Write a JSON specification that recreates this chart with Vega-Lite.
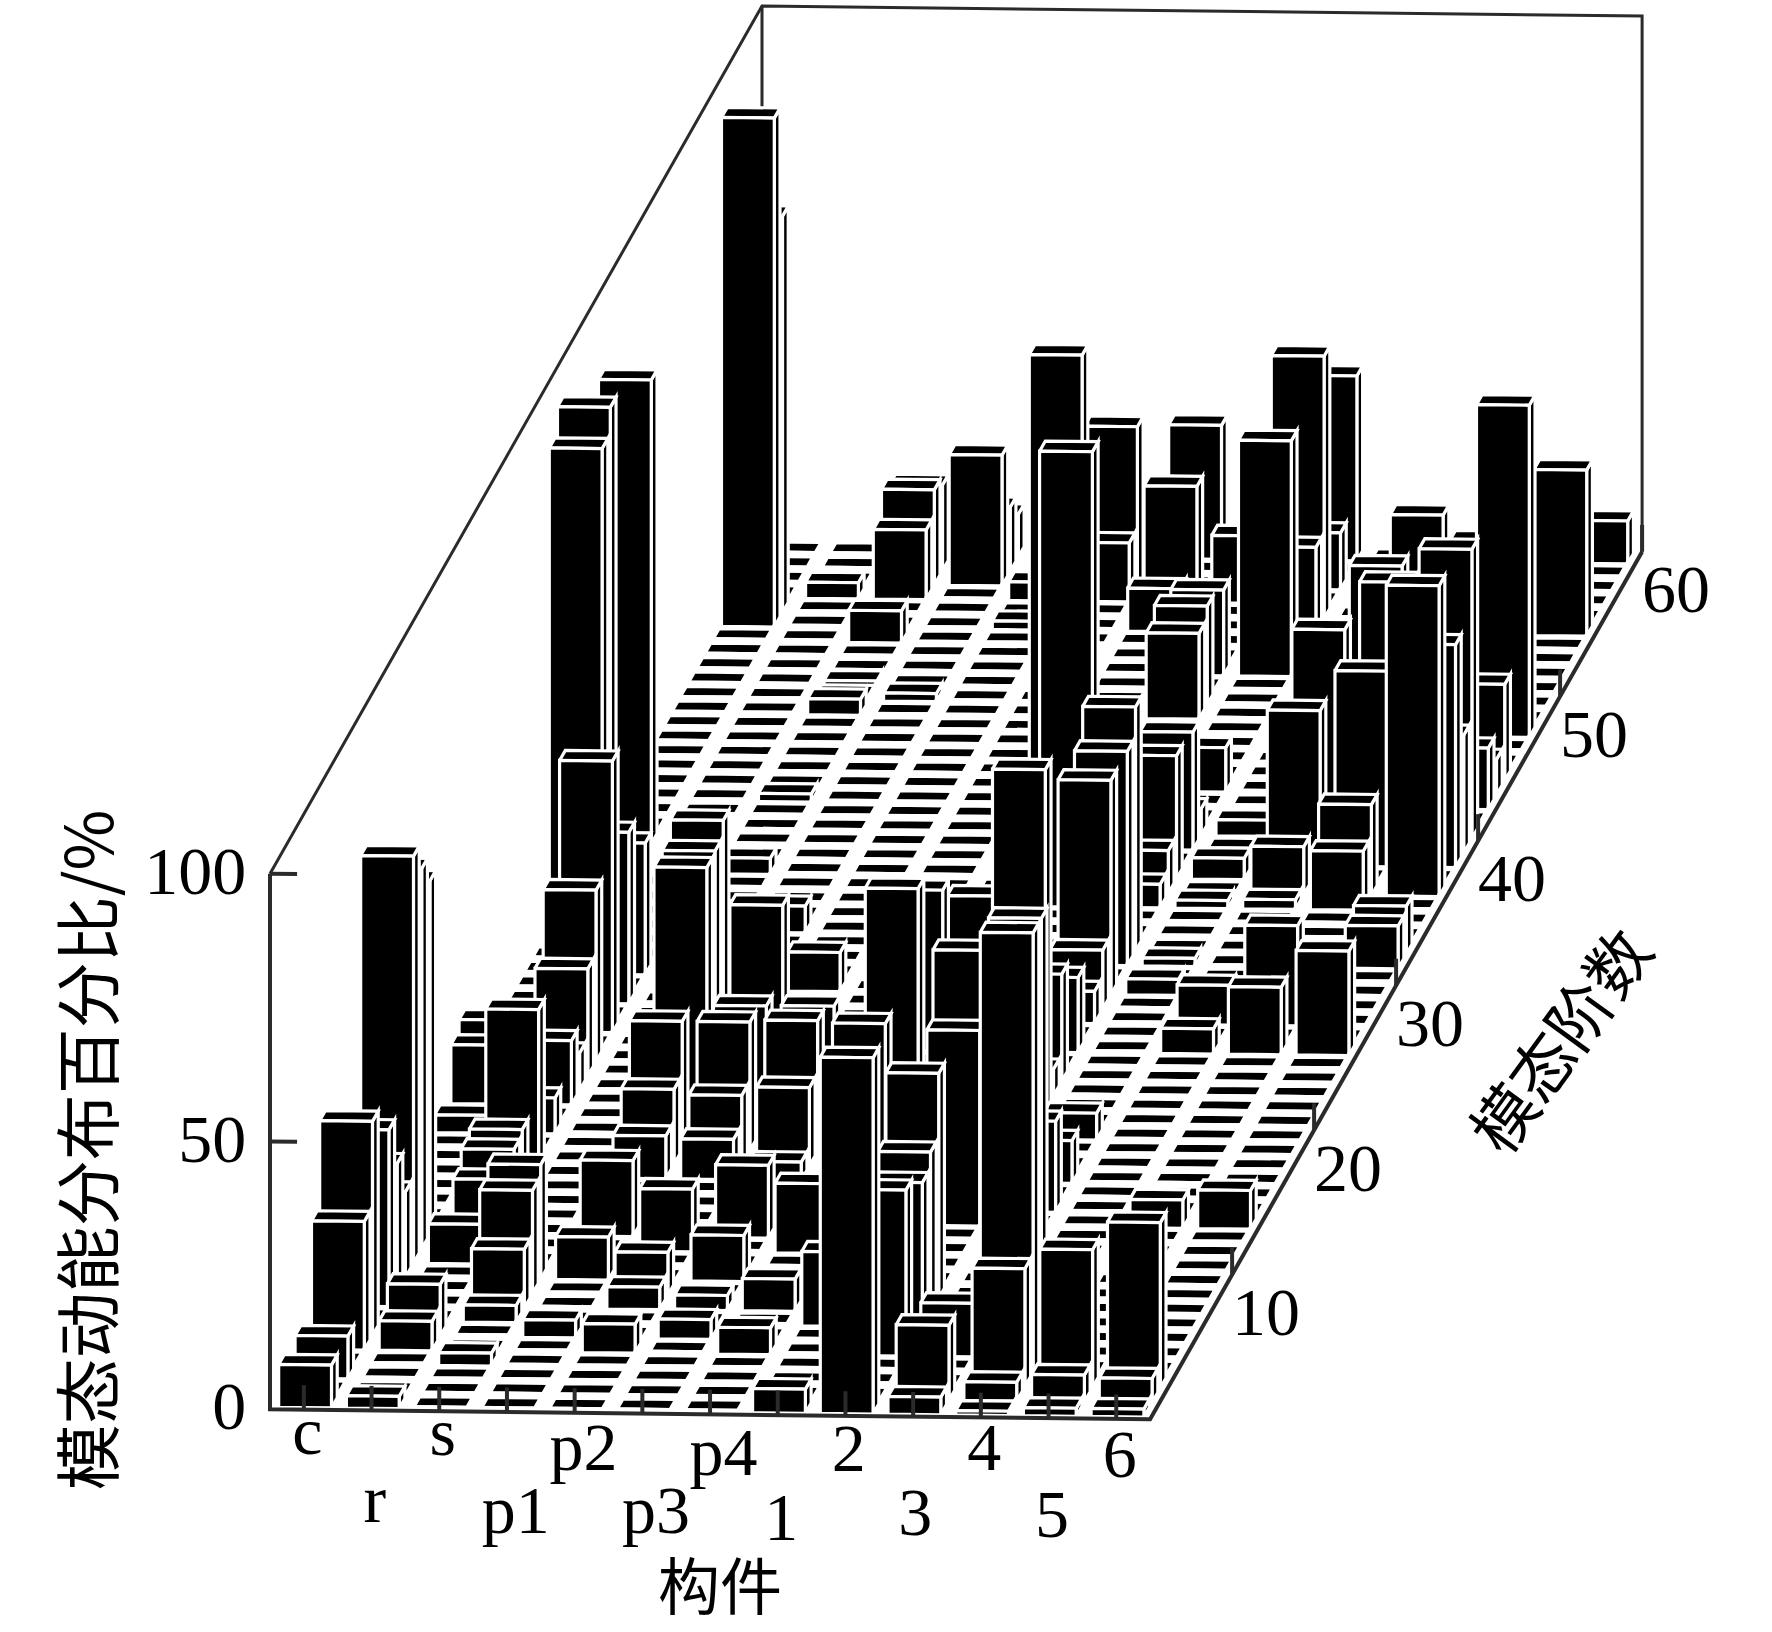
{"$schema":"https://vega.github.io/schema/vega-lite/v6.json","width":1772,"height":1632,"padding":0,"autosize":{"type":"fit","contains":"padding"},"background":"white","config":{"view":{"stroke":null}},
"layer":[
{"data":{"values":[{"path":"a","seq":1,"u":0,"w":0,"z":100},{"path":"a","seq":2,"u":0,"w":60,"z":100},{"path":"a","seq":3,"u":13,"w":60,"z":100},{"path":"a","seq":4,"u":13,"w":60,"z":0},{"path":"b","seq":1,"u":0,"w":60,"z":100},{"path":"b","seq":2,"u":0,"w":60,"z":0}]},
"transform":[{"calculate":"270+67.7*datum.u+8.2*datum.w","as":"px"},{"calculate":"1408+0.77*datum.u-14.55*datum.w-5.39*datum.z","as":"py"}],
"mark":{"type":"line","stroke":"#2b2b2b","strokeWidth":3,"clip":false},
"encoding":{"x":{"field":"px","type":"quantitative","scale":{"domain":[0,1772],"nice":false,"zero":false},"axis":null},"y":{"field":"py","type":"quantitative","scale":{"domain":[1632,0],"nice":false,"zero":false},"axis":null},"detail":{"field":"path"},"order":{"field":"seq"}}},
{"data":{"values":[
{"part":"c","mode":60,"value":0.4},{"part":"r","mode":60,"value":0.4},{"part":"s","mode":60,"value":0.4},{"part":"p1","mode":60,"value":8},{"part":"p2","mode":60,"value":0.4},{"part":"p3","mode":60,"value":0.4},{"part":"p4","mode":60,"value":25},{"part":"1","mode":60,"value":0.4},{"part":"2","mode":60,"value":34.5},{"part":"3","mode":60,"value":0.4},{"part":"4","mode":60,"value":0.4},{"part":"5","mode":60,"value":0.4},{"part":"6","mode":60,"value":8},
{"part":"c","mode":59,"value":0.4},{"part":"r","mode":59,"value":0.4},{"part":"s","mode":59,"value":16},{"part":"p1","mode":59,"value":12},{"part":"p2","mode":59,"value":0.4},{"part":"p3","mode":59,"value":0.4},{"part":"p4","mode":59,"value":0.4},{"part":"1","mode":59,"value":0.4},{"part":"2","mode":59,"value":0.4},{"part":"3","mode":59,"value":0.4},{"part":"4","mode":59,"value":0.4},{"part":"5","mode":59,"value":0.4},{"part":"6","mode":59,"value":0.4},
{"part":"c","mode":58,"value":0.4},{"part":"r","mode":58,"value":0.4},{"part":"s","mode":58,"value":17.8},{"part":"p1","mode":58,"value":24.4},{"part":"p2","mode":58,"value":0.4},{"part":"p3","mode":58,"value":30},{"part":"p4","mode":58,"value":0.4},{"part":"1","mode":58,"value":0.4},{"part":"2","mode":58,"value":10.6},{"part":"3","mode":58,"value":0.4},{"part":"4","mode":58,"value":0.4},{"part":"5","mode":58,"value":0.4},{"part":"6","mode":58,"value":0.4},
{"part":"c","mode":57,"value":0.4},{"part":"r","mode":57,"value":3},{"part":"s","mode":57,"value":13},{"part":"p1","mode":57,"value":0.4},{"part":"p2","mode":57,"value":3.5},{"part":"p3","mode":57,"value":11},{"part":"p4","mode":57,"value":21.7},{"part":"1","mode":57,"value":12.6},{"part":"2","mode":57,"value":0.4},{"part":"3","mode":57,"value":0.4},{"part":"4","mode":57,"value":0.4},{"part":"5","mode":57,"value":0.4},{"part":"6","mode":57,"value":0.4},
{"part":"c","mode":56,"value":74},{"part":"r","mode":56,"value":0.4},{"part":"s","mode":56,"value":0.4},{"part":"p1","mode":56,"value":0.4},{"part":"p2","mode":56,"value":0.4},{"part":"p3","mode":56,"value":0.4},{"part":"p4","mode":56,"value":0.4},{"part":"1","mode":56,"value":0.4},{"part":"2","mode":56,"value":49},{"part":"3","mode":56,"value":0.4},{"part":"4","mode":56,"value":0.4},{"part":"5","mode":56,"value":0.4},{"part":"6","mode":56,"value":0.4},
{"part":"c","mode":55,"value":95},{"part":"r","mode":55,"value":0.4},{"part":"s","mode":55,"value":0.4},{"part":"p1","mode":55,"value":0.4},{"part":"p2","mode":55,"value":1.6},{"part":"p3","mode":55,"value":0.4},{"part":"p4","mode":55,"value":8},{"part":"1","mode":55,"value":0.4},{"part":"2","mode":55,"value":16},{"part":"3","mode":55,"value":0.4},{"part":"4","mode":55,"value":0.4},{"part":"5","mode":55,"value":0.4},{"part":"6","mode":55,"value":31},
{"part":"c","mode":54,"value":0.4},{"part":"r","mode":54,"value":0.4},{"part":"s","mode":54,"value":6},{"part":"p1","mode":54,"value":0.4},{"part":"p2","mode":54,"value":0.4},{"part":"p3","mode":54,"value":0.4},{"part":"p4","mode":54,"value":0.4},{"part":"1","mode":54,"value":0.4},{"part":"2","mode":54,"value":0.4},{"part":"3","mode":54,"value":0.4},{"part":"4","mode":54,"value":25},{"part":"5","mode":54,"value":0.4},{"part":"6","mode":54,"value":0.4},
{"part":"c","mode":53,"value":0.4},{"part":"r","mode":53,"value":0.4},{"part":"s","mode":53,"value":0.4},{"part":"p1","mode":53,"value":0.4},{"part":"p2","mode":53,"value":0.4},{"part":"p3","mode":53,"value":0.4},{"part":"p4","mode":53,"value":0.4},{"part":"1","mode":53,"value":0.4},{"part":"2","mode":53,"value":0.4},{"part":"3","mode":53,"value":0.4},{"part":"4","mode":53,"value":0.4},{"part":"5","mode":53,"value":23},{"part":"6","mode":53,"value":0.4},
{"part":"c","mode":52,"value":0.4},{"part":"r","mode":52,"value":0.4},{"part":"s","mode":52,"value":0.4},{"part":"p1","mode":52,"value":0.4},{"part":"p2","mode":52,"value":0.4},{"part":"p3","mode":52,"value":0.4},{"part":"p4","mode":52,"value":0.4},{"part":"1","mode":52,"value":16},{"part":"2","mode":52,"value":44},{"part":"3","mode":52,"value":0.4},{"part":"4","mode":52,"value":0.4},{"part":"5","mode":52,"value":0.4},{"part":"6","mode":52,"value":0.4},
{"part":"c","mode":51,"value":0.4},{"part":"r","mode":51,"value":0.4},{"part":"s","mode":51,"value":1},{"part":"p1","mode":51,"value":0.4},{"part":"p2","mode":51,"value":0.4},{"part":"p3","mode":51,"value":0.4},{"part":"p4","mode":51,"value":0.4},{"part":"1","mode":51,"value":0.4},{"part":"2","mode":51,"value":0.4},{"part":"3","mode":51,"value":0.4},{"part":"4","mode":51,"value":0.4},{"part":"5","mode":51,"value":0.4},{"part":"6","mode":51,"value":0.4},
{"part":"c","mode":50,"value":0.4},{"part":"r","mode":50,"value":0.4},{"part":"s","mode":50,"value":1},{"part":"p1","mode":50,"value":1.5},{"part":"p2","mode":50,"value":0.4},{"part":"p3","mode":50,"value":0.4},{"part":"p4","mode":50,"value":0.4},{"part":"1","mode":50,"value":18.4},{"part":"2","mode":50,"value":0.4},{"part":"3","mode":50,"value":0.4},{"part":"4","mode":50,"value":0.4},{"part":"5","mode":50,"value":0.4},{"part":"6","mode":50,"value":0.4},
{"part":"c","mode":49,"value":0.4},{"part":"r","mode":49,"value":0.4},{"part":"s","mode":49,"value":3},{"part":"p1","mode":49,"value":0.4},{"part":"p2","mode":49,"value":0.4},{"part":"p3","mode":49,"value":0.4},{"part":"p4","mode":49,"value":0.4},{"part":"1","mode":49,"value":16},{"part":"2","mode":49,"value":0.4},{"part":"3","mode":49,"value":0.4},{"part":"4","mode":49,"value":29},{"part":"5","mode":49,"value":0.4},{"part":"6","mode":49,"value":0.4},
{"part":"c","mode":48,"value":0.4},{"part":"r","mode":48,"value":0.4},{"part":"s","mode":48,"value":0.4},{"part":"p1","mode":48,"value":0.4},{"part":"p2","mode":48,"value":0.4},{"part":"p3","mode":48,"value":0.4},{"part":"p4","mode":48,"value":0.4},{"part":"1","mode":48,"value":0.4},{"part":"2","mode":48,"value":0.4},{"part":"3","mode":48,"value":0.4},{"part":"4","mode":48,"value":0.4},{"part":"5","mode":48,"value":0.4},{"part":"6","mode":48,"value":62},
{"part":"c","mode":47,"value":0.4},{"part":"r","mode":47,"value":0.4},{"part":"s","mode":47,"value":0.4},{"part":"p1","mode":47,"value":0.4},{"part":"p2","mode":47,"value":0.4},{"part":"p3","mode":47,"value":0.4},{"part":"p4","mode":47,"value":0.4},{"part":"1","mode":47,"value":0.4},{"part":"2","mode":47,"value":0.4},{"part":"3","mode":47,"value":0.4},{"part":"4","mode":47,"value":0.4},{"part":"5","mode":47,"value":0.4},{"part":"6","mode":47,"value":0.4},
{"part":"c","mode":46,"value":0.4},{"part":"r","mode":46,"value":0.4},{"part":"s","mode":46,"value":0.4},{"part":"p1","mode":46,"value":0.4},{"part":"p2","mode":46,"value":0.4},{"part":"p3","mode":46,"value":0.4},{"part":"p4","mode":46,"value":0.4},{"part":"1","mode":46,"value":0.4},{"part":"2","mode":46,"value":0.4},{"part":"3","mode":46,"value":0.4},{"part":"4","mode":46,"value":0.4},{"part":"5","mode":46,"value":0.4},{"part":"6","mode":46,"value":0.4},
{"part":"c","mode":45,"value":0.4},{"part":"r","mode":45,"value":0.4},{"part":"s","mode":45,"value":0.4},{"part":"p1","mode":45,"value":0.4},{"part":"p2","mode":45,"value":0.4},{"part":"p3","mode":45,"value":0.4},{"part":"p4","mode":45,"value":0.4},{"part":"1","mode":45,"value":0.4},{"part":"2","mode":45,"value":0.4},{"part":"3","mode":45,"value":0.4},{"part":"4","mode":45,"value":0.4},{"part":"5","mode":45,"value":0.4},{"part":"6","mode":45,"value":18},
{"part":"c","mode":44,"value":0.4},{"part":"r","mode":44,"value":0.4},{"part":"s","mode":44,"value":0.4},{"part":"p1","mode":44,"value":0.4},{"part":"p2","mode":44,"value":0.4},{"part":"p3","mode":44,"value":0.4},{"part":"p4","mode":44,"value":0.4},{"part":"1","mode":44,"value":0.4},{"part":"2","mode":44,"value":8.3},{"part":"3","mode":44,"value":0.4},{"part":"4","mode":44,"value":0.4},{"part":"5","mode":44,"value":0.4},{"part":"6","mode":44,"value":6.7},
{"part":"c","mode":43,"value":0.4},{"part":"r","mode":43,"value":0.4},{"part":"s","mode":43,"value":1.5},{"part":"p1","mode":43,"value":0.4},{"part":"p2","mode":43,"value":0.4},{"part":"p3","mode":43,"value":0.4},{"part":"p4","mode":43,"value":84},{"part":"1","mode":43,"value":0.4},{"part":"2","mode":43,"value":0.4},{"part":"3","mode":43,"value":0.4},{"part":"4","mode":43,"value":0.4},{"part":"5","mode":43,"value":0.4},{"part":"6","mode":43,"value":11.5},
{"part":"c","mode":42,"value":0.4},{"part":"r","mode":42,"value":0.4},{"part":"s","mode":42,"value":0.4},{"part":"p1","mode":42,"value":0.4},{"part":"p2","mode":42,"value":0.4},{"part":"p3","mode":42,"value":0.4},{"part":"p4","mode":42,"value":0.4},{"part":"1","mode":42,"value":0.4},{"part":"2","mode":42,"value":0.4},{"part":"3","mode":42,"value":0.4},{"part":"4","mode":42,"value":36},{"part":"5","mode":42,"value":45},{"part":"6","mode":42,"value":0.4},
{"part":"c","mode":41,"value":0.4},{"part":"r","mode":41,"value":0.4},{"part":"s","mode":41,"value":0.4},{"part":"p1","mode":41,"value":0.4},{"part":"p2","mode":41,"value":0.4},{"part":"p3","mode":41,"value":0.4},{"part":"p4","mode":41,"value":0.4},{"part":"1","mode":41,"value":0.4},{"part":"2","mode":41,"value":5},{"part":"3","mode":41,"value":3},{"part":"4","mode":41,"value":0.4},{"part":"5","mode":41,"value":0.4},{"part":"6","mode":41,"value":54},
{"part":"c","mode":40,"value":86.6},{"part":"r","mode":40,"value":0.4},{"part":"s","mode":40,"value":0.4},{"part":"p1","mode":40,"value":0.4},{"part":"p2","mode":40,"value":0.4},{"part":"p3","mode":40,"value":0.4},{"part":"p4","mode":40,"value":0.4},{"part":"1","mode":40,"value":0.4},{"part":"2","mode":40,"value":22},{"part":"3","mode":40,"value":0.4},{"part":"4","mode":40,"value":0.4},{"part":"5","mode":40,"value":0.4},{"part":"6","mode":40,"value":22},
{"part":"c","mode":39,"value":0.4},{"part":"r","mode":39,"value":0.4},{"part":"s","mode":39,"value":0.4},{"part":"p1","mode":39,"value":0.4},{"part":"p2","mode":39,"value":0.4},{"part":"p3","mode":39,"value":0.4},{"part":"p4","mode":39,"value":0.4},{"part":"1","mode":39,"value":0.4},{"part":"2","mode":39,"value":0.4},{"part":"3","mode":39,"value":0.4},{"part":"4","mode":39,"value":29},{"part":"5","mode":39,"value":36.5},{"part":"6","mode":39,"value":41.6},
{"part":"c","mode":38,"value":0.4},{"part":"r","mode":38,"value":0.4},{"part":"s","mode":38,"value":3},{"part":"p1","mode":38,"value":0.4},{"part":"p2","mode":38,"value":0.4},{"part":"p3","mode":38,"value":0.4},{"part":"p4","mode":38,"value":0.4},{"part":"1","mode":38,"value":0.4},{"part":"2","mode":38,"value":23},{"part":"3","mode":38,"value":4},{"part":"4","mode":38,"value":0.4},{"part":"5","mode":38,"value":0.4},{"part":"6","mode":38,"value":0.4},
{"part":"c","mode":37,"value":0.4},{"part":"r","mode":37,"value":0.4},{"part":"s","mode":37,"value":0.4},{"part":"p1","mode":37,"value":0.4},{"part":"p2","mode":37,"value":0.4},{"part":"p3","mode":37,"value":0.4},{"part":"p4","mode":37,"value":0.4},{"part":"1","mode":37,"value":0.4},{"part":"2","mode":37,"value":8},{"part":"3","mode":37,"value":0.4},{"part":"4","mode":37,"value":9},{"part":"5","mode":37,"value":17},{"part":"6","mode":37,"value":58},
{"part":"c","mode":36,"value":0.4},{"part":"r","mode":36,"value":0.4},{"part":"s","mode":36,"value":0.4},{"part":"p1","mode":36,"value":0.4},{"part":"p2","mode":36,"value":0.4},{"part":"p3","mode":36,"value":0.4},{"part":"p4","mode":36,"value":0.4},{"part":"1","mode":36,"value":85},{"part":"2","mode":36,"value":4.4},{"part":"3","mode":36,"value":1.5},{"part":"4","mode":36,"value":1.8},{"part":"5","mode":36,"value":11},{"part":"6","mode":36,"value":0.4},
{"part":"c","mode":35,"value":95},{"part":"r","mode":35,"value":0.4},{"part":"s","mode":35,"value":0.4},{"part":"p1","mode":35,"value":0.4},{"part":"p2","mode":35,"value":0.4},{"part":"p3","mode":35,"value":0.4},{"part":"p4","mode":35,"value":0.4},{"part":"1","mode":35,"value":0.4},{"part":"2","mode":35,"value":0.4},{"part":"3","mode":35,"value":0.4},{"part":"4","mode":35,"value":0.4},{"part":"5","mode":35,"value":0.4},{"part":"6","mode":35,"value":0.4},
{"part":"c","mode":34,"value":90},{"part":"r","mode":34,"value":0.4},{"part":"s","mode":34,"value":0.4},{"part":"p1","mode":34,"value":5},{"part":"p2","mode":34,"value":0.4},{"part":"p3","mode":34,"value":0.4},{"part":"p4","mode":34,"value":0.4},{"part":"1","mode":34,"value":0.4},{"part":"2","mode":34,"value":0.4},{"part":"3","mode":34,"value":0.4},{"part":"4","mode":34,"value":0.4},{"part":"5","mode":34,"value":0.4},{"part":"6","mode":34,"value":0.4},
{"part":"c","mode":33,"value":0.4},{"part":"r","mode":33,"value":0.4},{"part":"s","mode":33,"value":0.4},{"part":"p1","mode":33,"value":0.4},{"part":"p2","mode":33,"value":0.4},{"part":"p3","mode":33,"value":0.4},{"part":"p4","mode":33,"value":10},{"part":"1","mode":33,"value":0.4},{"part":"2","mode":33,"value":45.6},{"part":"3","mode":33,"value":0.4},{"part":"4","mode":33,"value":0.4},{"part":"5","mode":33,"value":0.4},{"part":"6","mode":33,"value":9},
{"part":"c","mode":32,"value":0.4},{"part":"r","mode":32,"value":0.4},{"part":"s","mode":32,"value":0.4},{"part":"p1","mode":32,"value":0.4},{"part":"p2","mode":32,"value":0.4},{"part":"p3","mode":32,"value":0.4},{"part":"p4","mode":32,"value":0.4},{"part":"1","mode":32,"value":0.4},{"part":"2","mode":32,"value":40},{"part":"3","mode":32,"value":1.5},{"part":"4","mode":32,"value":0.4},{"part":"5","mode":32,"value":0.4},{"part":"6","mode":32,"value":8},
{"part":"c","mode":31,"value":0.4},{"part":"r","mode":31,"value":24.6},{"part":"s","mode":31,"value":0.4},{"part":"p1","mode":31,"value":0.4},{"part":"p2","mode":31,"value":0.4},{"part":"p3","mode":31,"value":0.4},{"part":"p4","mode":31,"value":0.4},{"part":"1","mode":31,"value":0.4},{"part":"2","mode":31,"value":0.4},{"part":"3","mode":31,"value":0.4},{"part":"4","mode":31,"value":0.4},{"part":"5","mode":31,"value":0.4},{"part":"6","mode":31,"value":0.4},
{"part":"c","mode":30,"value":0.4},{"part":"r","mode":30,"value":0.4},{"part":"s","mode":30,"value":0.4},{"part":"p1","mode":30,"value":0.4},{"part":"p2","mode":30,"value":7.3},{"part":"p3","mode":30,"value":0.4},{"part":"p4","mode":30,"value":0.4},{"part":"1","mode":30,"value":0.4},{"part":"2","mode":30,"value":40},{"part":"3","mode":30,"value":3},{"part":"4","mode":30,"value":0.4},{"part":"5","mode":30,"value":0.4},{"part":"6","mode":30,"value":0.4},
{"part":"c","mode":29,"value":0.4},{"part":"r","mode":29,"value":32},{"part":"s","mode":29,"value":0.4},{"part":"p1","mode":29,"value":0.4},{"part":"p2","mode":29,"value":0.4},{"part":"p3","mode":29,"value":0.4},{"part":"p4","mode":29,"value":0.4},{"part":"1","mode":29,"value":0.4},{"part":"2","mode":29,"value":11},{"part":"3","mode":29,"value":0.4},{"part":"4","mode":29,"value":0.4},{"part":"5","mode":29,"value":0.4},{"part":"6","mode":29,"value":0.4},
{"part":"c","mode":28,"value":0.4},{"part":"r","mode":28,"value":0.4},{"part":"s","mode":28,"value":0.4},{"part":"p1","mode":28,"value":0.4},{"part":"p2","mode":28,"value":0.4},{"part":"p3","mode":28,"value":0.4},{"part":"p4","mode":28,"value":0.4},{"part":"1","mode":28,"value":0.4},{"part":"2","mode":28,"value":6},{"part":"3","mode":28,"value":0.4},{"part":"4","mode":28,"value":7.4},{"part":"5","mode":28,"value":18.7},{"part":"6","mode":28,"value":0.4},
{"part":"c","mode":27,"value":0.4},{"part":"r","mode":27,"value":50.7},{"part":"s","mode":27,"value":0.4},{"part":"p1","mode":27,"value":0.4},{"part":"p2","mode":27,"value":0.4},{"part":"p3","mode":27,"value":0.4},{"part":"p4","mode":27,"value":0.4},{"part":"1","mode":27,"value":0.4},{"part":"2","mode":27,"value":0.4},{"part":"3","mode":27,"value":0.4},{"part":"4","mode":27,"value":0.4},{"part":"5","mode":27,"value":0.4},{"part":"6","mode":27,"value":0.4},
{"part":"c","mode":26,"value":0.4},{"part":"r","mode":26,"value":0.4},{"part":"s","mode":26,"value":0.4},{"part":"p1","mode":26,"value":0.4},{"part":"p2","mode":26,"value":0.4},{"part":"p3","mode":26,"value":0.4},{"part":"p4","mode":26,"value":30},{"part":"1","mode":26,"value":0.4},{"part":"2","mode":26,"value":14},{"part":"3","mode":26,"value":0.4},{"part":"4","mode":26,"value":4.7},{"part":"5","mode":26,"value":12.6},{"part":"6","mode":26,"value":19.5},
{"part":"c","mode":25,"value":0.4},{"part":"r","mode":25,"value":32},{"part":"s","mode":25,"value":0.4},{"part":"p1","mode":25,"value":0.4},{"part":"p2","mode":25,"value":0.4},{"part":"p3","mode":25,"value":0.4},{"part":"p4","mode":25,"value":0.4},{"part":"1","mode":25,"value":0.4},{"part":"2","mode":25,"value":0.4},{"part":"3","mode":25,"value":0.4},{"part":"4","mode":25,"value":0.4},{"part":"5","mode":25,"value":0.4},{"part":"6","mode":25,"value":0.4},
{"part":"c","mode":24,"value":0.4},{"part":"r","mode":24,"value":20},{"part":"s","mode":24,"value":0.4},{"part":"p1","mode":24,"value":48},{"part":"p2","mode":24,"value":0.4},{"part":"p3","mode":24,"value":0.4},{"part":"p4","mode":24,"value":0.4},{"part":"1","mode":24,"value":0.4},{"part":"2","mode":24,"value":20},{"part":"3","mode":24,"value":0.4},{"part":"4","mode":24,"value":0.4},{"part":"5","mode":24,"value":0.4},{"part":"6","mode":24,"value":0.4},
{"part":"c","mode":23,"value":13},{"part":"r","mode":23,"value":7},{"part":"s","mode":23,"value":0.4},{"part":"p1","mode":23,"value":45},{"part":"p2","mode":23,"value":35},{"part":"p3","mode":23,"value":0.4},{"part":"p4","mode":23,"value":38.4},{"part":"1","mode":23,"value":27},{"part":"2","mode":23,"value":5},{"part":"3","mode":23,"value":0.4},{"part":"4","mode":23,"value":0.4},{"part":"5","mode":23,"value":0.4},{"part":"6","mode":23,"value":0.4},
{"part":"c","mode":22,"value":11},{"part":"r","mode":22,"value":12},{"part":"s","mode":22,"value":0.4},{"part":"p1","mode":22,"value":44.6},{"part":"p2","mode":22,"value":0.4},{"part":"p3","mode":22,"value":0.4},{"part":"p4","mode":22,"value":0.4},{"part":"1","mode":22,"value":0.4},{"part":"2","mode":22,"value":63.6},{"part":"3","mode":22,"value":0.4},{"part":"4","mode":22,"value":0.4},{"part":"5","mode":22,"value":0.4},{"part":"6","mode":22,"value":0.4},
{"part":"c","mode":21,"value":0.4},{"part":"r","mode":21,"value":0.4},{"part":"s","mode":21,"value":0.4},{"part":"p1","mode":21,"value":0.4},{"part":"p2","mode":21,"value":21.6},{"part":"p3","mode":21,"value":21.7},{"part":"p4","mode":21,"value":0.4},{"part":"1","mode":21,"value":0.4},{"part":"2","mode":21,"value":0.4},{"part":"3","mode":21,"value":0.4},{"part":"4","mode":21,"value":0.4},{"part":"5","mode":21,"value":0.4},{"part":"6","mode":21,"value":0.4},
{"part":"c","mode":20,"value":3.3},{"part":"r","mode":20,"value":6.7},{"part":"s","mode":20,"value":0.4},{"part":"p1","mode":20,"value":0.4},{"part":"p2","mode":20,"value":0.4},{"part":"p3","mode":20,"value":0.4},{"part":"p4","mode":20,"value":0.4},{"part":"1","mode":20,"value":0.4},{"part":"2","mode":20,"value":0.4},{"part":"3","mode":20,"value":5},{"part":"4","mode":20,"value":0.4},{"part":"5","mode":20,"value":0.4},{"part":"6","mode":20,"value":0.4},
{"part":"c","mode":19,"value":0.4},{"part":"r","mode":19,"value":0.4},{"part":"s","mode":19,"value":0.4},{"part":"p1","mode":19,"value":24},{"part":"p2","mode":19,"value":24},{"part":"p3","mode":19,"value":24.4},{"part":"p4","mode":19,"value":24},{"part":"1","mode":19,"value":0.4},{"part":"2","mode":19,"value":0.4},{"part":"3","mode":19,"value":0.4},{"part":"4","mode":19,"value":0.4},{"part":"5","mode":19,"value":0.4},{"part":"6","mode":19,"value":0.4},
{"part":"c","mode":18,"value":0.4},{"part":"r","mode":18,"value":28.6},{"part":"s","mode":18,"value":0.4},{"part":"p1","mode":18,"value":14},{"part":"p2","mode":18,"value":13},{"part":"p3","mode":18,"value":14.6},{"part":"p4","mode":18,"value":0.4},{"part":"1","mode":18,"value":0.4},{"part":"2","mode":18,"value":0.4},{"part":"3","mode":18,"value":0.4},{"part":"4","mode":18,"value":0.4},{"part":"5","mode":18,"value":0.4},{"part":"6","mode":18,"value":0.4},
{"part":"c","mode":17,"value":0.4},{"part":"r","mode":17,"value":0.4},{"part":"s","mode":17,"value":0.4},{"part":"p1","mode":17,"value":8},{"part":"p2","mode":17,"value":7.5},{"part":"p3","mode":17,"value":3.4},{"part":"p4","mode":17,"value":0.4},{"part":"1","mode":17,"value":0.4},{"part":"2","mode":17,"value":0.4},{"part":"3","mode":17,"value":8},{"part":"4","mode":17,"value":0.4},{"part":"5","mode":17,"value":0.4},{"part":"6","mode":17,"value":0.4},
{"part":"c","mode":16,"value":0.4},{"part":"r","mode":16,"value":11.6},{"part":"s","mode":16,"value":0.4},{"part":"p1","mode":16,"value":0.4},{"part":"p2","mode":16,"value":0.4},{"part":"p3","mode":16,"value":0.4},{"part":"p4","mode":16,"value":0.4},{"part":"1","mode":16,"value":0.4},{"part":"2","mode":16,"value":0.4},{"part":"3","mode":16,"value":0.4},{"part":"4","mode":16,"value":0.4},{"part":"5","mode":16,"value":0.4},{"part":"6","mode":16,"value":0.4},
{"part":"c","mode":15,"value":0.4},{"part":"r","mode":15,"value":10.6},{"part":"s","mode":15,"value":0.4},{"part":"p1","mode":15,"value":0.4},{"part":"p2","mode":15,"value":0.4},{"part":"p3","mode":15,"value":0.4},{"part":"p4","mode":15,"value":0.4},{"part":"1","mode":15,"value":0.4},{"part":"2","mode":15,"value":0.4},{"part":"3","mode":15,"value":17},{"part":"4","mode":15,"value":0.4},{"part":"5","mode":15,"value":0.4},{"part":"6","mode":15,"value":0.4},
{"part":"c","mode":14,"value":0.4},{"part":"r","mode":14,"value":7.7},{"part":"s","mode":14,"value":0.4},{"part":"p1","mode":14,"value":0.4},{"part":"p2","mode":14,"value":0.4},{"part":"p3","mode":14,"value":0.4},{"part":"p4","mode":14,"value":0.4},{"part":"1","mode":14,"value":0.4},{"part":"2","mode":14,"value":36.5},{"part":"3","mode":14,"value":0.4},{"part":"4","mode":14,"value":0.4},{"part":"5","mode":14,"value":5.3},{"part":"6","mode":14,"value":7.2},
{"part":"c","mode":13,"value":66},{"part":"r","mode":13,"value":0.4},{"part":"s","mode":13,"value":0.4},{"part":"p1","mode":13,"value":14.2},{"part":"p2","mode":13,"value":0.4},{"part":"p3","mode":13,"value":13.6},{"part":"p4","mode":13,"value":0.4},{"part":"1","mode":13,"value":0.4},{"part":"2","mode":13,"value":0.4},{"part":"3","mode":13,"value":0.4},{"part":"4","mode":13,"value":0.4},{"part":"5","mode":13,"value":0.4},{"part":"6","mode":13,"value":0.4},
{"part":"c","mode":12,"value":71},{"part":"r","mode":12,"value":0.4},{"part":"s","mode":12,"value":0.4},{"part":"p1","mode":12,"value":0.4},{"part":"p2","mode":12,"value":11.7},{"part":"p3","mode":12,"value":0.4},{"part":"p4","mode":12,"value":13},{"part":"1","mode":12,"value":0.4},{"part":"2","mode":12,"value":0.4},{"part":"3","mode":12,"value":0.4},{"part":"4","mode":12,"value":0.4},{"part":"5","mode":12,"value":0.4},{"part":"6","mode":12,"value":0.4},
{"part":"c","mode":11,"value":76},{"part":"r","mode":11,"value":7.4},{"part":"s","mode":11,"value":0.4},{"part":"p1","mode":11,"value":0.4},{"part":"p2","mode":11,"value":0.4},{"part":"p3","mode":11,"value":0.4},{"part":"p4","mode":11,"value":0.4},{"part":"1","mode":11,"value":0.4},{"part":"2","mode":11,"value":0.4},{"part":"3","mode":11,"value":0.4},{"part":"4","mode":11,"value":0.4},{"part":"5","mode":11,"value":0.4},{"part":"6","mode":11,"value":0.4},
{"part":"c","mode":10,"value":16},{"part":"r","mode":10,"value":0.4},{"part":"s","mode":10,"value":21.4},{"part":"p1","mode":10,"value":8},{"part":"p2","mode":10,"value":0.4},{"part":"p3","mode":10,"value":8.6},{"part":"p4","mode":10,"value":0.4},{"part":"1","mode":10,"value":0.4},{"part":"2","mode":10,"value":0.4},{"part":"3","mode":10,"value":0.4},{"part":"4","mode":10,"value":0.4},{"part":"5","mode":10,"value":0.4},{"part":"6","mode":10,"value":0.4},
{"part":"c","mode":9,"value":24},{"part":"r","mode":9,"value":0.4},{"part":"s","mode":9,"value":19.3},{"part":"p1","mode":9,"value":0.4},{"part":"p2","mode":9,"value":8},{"part":"p3","mode":9,"value":0.4},{"part":"p4","mode":9,"value":0.4},{"part":"1","mode":9,"value":0.4},{"part":"2","mode":9,"value":42},{"part":"3","mode":9,"value":0.4},{"part":"4","mode":9,"value":0.4},{"part":"5","mode":9,"value":0.4},{"part":"6","mode":9,"value":0.4},
{"part":"c","mode":8,"value":33},{"part":"r","mode":8,"value":0.4},{"part":"s","mode":8,"value":11},{"part":"p1","mode":8,"value":0.4},{"part":"p2","mode":8,"value":4.2},{"part":"p3","mode":8,"value":2.8},{"part":"p4","mode":8,"value":6},{"part":"1","mode":8,"value":0.4},{"part":"2","mode":8,"value":30},{"part":"3","mode":8,"value":0.4},{"part":"4","mode":8,"value":0.4},{"part":"5","mode":8,"value":0.4},{"part":"6","mode":8,"value":0.4},
{"part":"c","mode":7,"value":0.4},{"part":"r","mode":7,"value":0.4},{"part":"s","mode":7,"value":3.2},{"part":"p1","mode":7,"value":0.4},{"part":"p2","mode":7,"value":0.4},{"part":"p3","mode":7,"value":0.4},{"part":"p4","mode":7,"value":0.4},{"part":"1","mode":7,"value":13.9},{"part":"2","mode":7,"value":27},{"part":"3","mode":7,"value":0.4},{"part":"4","mode":7,"value":0.4},{"part":"5","mode":7,"value":0.4},{"part":"6","mode":7,"value":0.4},
{"part":"c","mode":6,"value":40},{"part":"r","mode":6,"value":9.7},{"part":"s","mode":6,"value":0.4},{"part":"p1","mode":6,"value":3.3},{"part":"p2","mode":6,"value":0.4},{"part":"p3","mode":6,"value":3.7},{"part":"p4","mode":6,"value":0.4},{"part":"1","mode":6,"value":0.4},{"part":"2","mode":6,"value":0.4},{"part":"3","mode":6,"value":0.4},{"part":"4","mode":6,"value":0.4},{"part":"5","mode":6,"value":0.4},{"part":"6","mode":6,"value":0.4},
{"part":"c","mode":5,"value":24},{"part":"r","mode":5,"value":5.5},{"part":"s","mode":5,"value":0.4},{"part":"p1","mode":5,"value":0.4},{"part":"p2","mode":5,"value":5.4},{"part":"p3","mode":5,"value":0.4},{"part":"p4","mode":5,"value":5},{"part":"1","mode":5,"value":0.4},{"part":"2","mode":5,"value":31},{"part":"3","mode":5,"value":10},{"part":"4","mode":5,"value":82},{"part":"5","mode":5,"value":0.4},{"part":"6","mode":5,"value":0.4},
{"part":"c","mode":4,"value":0.4},{"part":"r","mode":4,"value":0.4},{"part":"s","mode":4,"value":2.4},{"part":"p1","mode":4,"value":0.4},{"part":"p2","mode":4,"value":0.4},{"part":"p3","mode":4,"value":0.4},{"part":"p4","mode":4,"value":0.4},{"part":"1","mode":4,"value":0.4},{"part":"2","mode":4,"value":0.4},{"part":"3","mode":4,"value":0.4},{"part":"4","mode":4,"value":82},{"part":"5","mode":4,"value":0.4},{"part":"6","mode":4,"value":0.4},
{"part":"c","mode":3,"value":8},{"part":"r","mode":3,"value":0.4},{"part":"s","mode":3,"value":0.4},{"part":"p1","mode":3,"value":0.4},{"part":"p2","mode":3,"value":0.4},{"part":"p3","mode":3,"value":0.4},{"part":"p4","mode":3,"value":0.4},{"part":"1","mode":3,"value":0.4},{"part":"2","mode":3,"value":0.4},{"part":"3","mode":3,"value":0.4},{"part":"4","mode":3,"value":22},{"part":"5","mode":3,"value":25.7},{"part":"6","mode":3,"value":30.9},
{"part":"c","mode":2,"value":0.4},{"part":"r","mode":2,"value":0.4},{"part":"s","mode":2,"value":0.4},{"part":"p1","mode":2,"value":0.4},{"part":"p2","mode":2,"value":0.4},{"part":"p3","mode":2,"value":0.4},{"part":"p4","mode":2,"value":0.4},{"part":"1","mode":2,"value":0.4},{"part":"2","mode":2,"value":0.4},{"part":"3","mode":2,"value":14},{"part":"4","mode":2,"value":3.5},{"part":"5","mode":2,"value":5},{"part":"6","mode":2,"value":4.5},
{"part":"c","mode":1,"value":8},{"part":"r","mode":1,"value":2.3},{"part":"s","mode":1,"value":0.4},{"part":"p1","mode":1,"value":0.4},{"part":"p2","mode":1,"value":0.4},{"part":"p3","mode":1,"value":0.4},{"part":"p4","mode":1,"value":0.4},{"part":"1","mode":1,"value":4.5},{"part":"2","mode":1,"value":66.5},{"part":"3","mode":1,"value":3.3},{"part":"4","mode":1,"value":0.8},{"part":"5","mode":1,"value":1.5},{"part":"6","mode":1,"value":1.5}
]},
"transform":[{"calculate":"indexof(['c','r','s','p1','p2','p3','p4','1','2','3','4','5','6'],datum.part)","as":"i"},{"calculate":"[0,1,2]","as":"face"},{"flatten":["face"]},{"calculate":"[0,1,2,3,4]","as":"vertex"},{"flatten":["vertex"]},
{"calculate":"datum.i+0.11+0.78*[[1,1,1,1,1],[0,1,1,0,0],[0,1,1,0,0]][datum.face][datum.vertex]","as":"uu"},
{"calculate":"datum.mode-0.85+0.7*[[0,1,1,0,0],[0,0,1,1,0],[0,0,0,0,0]][datum.face][datum.vertex]","as":"ww"},
{"calculate":"datum.value*[[0,0,1,1,0],[1,1,1,1,1],[0,0,1,1,0]][datum.face][datum.vertex]","as":"zz"},
{"calculate":"270+67.7*datum.uu+8.2*datum.ww","as":"px"},{"calculate":"1408+0.77*datum.uu-14.55*datum.ww-5.39*datum.zz","as":"py"},{"calculate":"datum.part+'-'+datum.mode+'-'+datum.face","as":"id"}],
"mark":{"type":"line","fill":"#000","stroke":"#fff","strokeWidth":3.2,"strokeJoin":"miter","clip":false},
"encoding":{"x":{"field":"px","type":"quantitative","scale":{"domain":[0,1772],"nice":false,"zero":false},"axis":null},"y":{"field":"py","type":"quantitative","scale":{"domain":[1632,0],"nice":false,"zero":false},"axis":null},"detail":{"field":"id"},"order":{"field":"vertex"}}},
{"data":{"values":[{"path":"l","seq":1,"u":0,"w":0,"z":100},{"path":"l","seq":2,"u":0,"w":0,"z":0},{"path":"l","seq":3,"u":13,"w":0,"z":0},{"path":"l","seq":4,"u":13,"w":60,"z":0},
{"path":"z100","seq":1,"u":0,"w":0,"z":100},{"path":"z100","seq":2,"u":0.4,"w":0,"z":100},{"path":"z50","seq":1,"u":0,"w":0,"z":50},{"path":"z50","seq":2,"u":0.4,"w":0,"z":50},
{"path":"m10","seq":1,"u":13,"w":10,"z":0},{"path":"m10","seq":2,"u":13,"w":10,"z":5},{"path":"m20","seq":1,"u":13,"w":20,"z":0},{"path":"m20","seq":2,"u":13,"w":20,"z":5},{"path":"m30","seq":1,"u":13,"w":30,"z":0},{"path":"m30","seq":2,"u":13,"w":30,"z":5},{"path":"m40","seq":1,"u":13,"w":40,"z":0},{"path":"m40","seq":2,"u":13,"w":40,"z":5},{"path":"m50","seq":1,"u":13,"w":50,"z":0},{"path":"m50","seq":2,"u":13,"w":50,"z":5},{"path":"m60","seq":1,"u":13,"w":60,"z":0},{"path":"m60","seq":2,"u":13,"w":60,"z":5},
{"path":"t0","seq":1,"u":0.5,"w":0,"z":0},{"path":"t0","seq":2,"u":0.5,"w":0,"z":4.6},{"path":"t1","seq":1,"u":1.5,"w":0,"z":0},{"path":"t1","seq":2,"u":1.5,"w":0,"z":4.6},{"path":"t2","seq":1,"u":2.5,"w":0,"z":0},{"path":"t2","seq":2,"u":2.5,"w":0,"z":4.6},{"path":"t3","seq":1,"u":3.5,"w":0,"z":0},{"path":"t3","seq":2,"u":3.5,"w":0,"z":4.6},{"path":"t4","seq":1,"u":4.5,"w":0,"z":0},{"path":"t4","seq":2,"u":4.5,"w":0,"z":4.6},{"path":"t5","seq":1,"u":5.5,"w":0,"z":0},{"path":"t5","seq":2,"u":5.5,"w":0,"z":4.6},{"path":"t6","seq":1,"u":6.5,"w":0,"z":0},{"path":"t6","seq":2,"u":6.5,"w":0,"z":4.6},{"path":"t7","seq":1,"u":7.5,"w":0,"z":0},{"path":"t7","seq":2,"u":7.5,"w":0,"z":4.6},{"path":"t8","seq":1,"u":8.5,"w":0,"z":0},{"path":"t8","seq":2,"u":8.5,"w":0,"z":4.6},{"path":"t9","seq":1,"u":9.5,"w":0,"z":0},{"path":"t9","seq":2,"u":9.5,"w":0,"z":4.6},{"path":"t10","seq":1,"u":10.5,"w":0,"z":0},{"path":"t10","seq":2,"u":10.5,"w":0,"z":4.6},{"path":"t11","seq":1,"u":11.5,"w":0,"z":0},{"path":"t11","seq":2,"u":11.5,"w":0,"z":4.6},{"path":"t12","seq":1,"u":12.5,"w":0,"z":0},{"path":"t12","seq":2,"u":12.5,"w":0,"z":4.6}]},
"transform":[{"calculate":"270+67.7*datum.u+8.2*datum.w","as":"px"},{"calculate":"1408+0.77*datum.u-14.55*datum.w-5.39*datum.z","as":"py"}],
"mark":{"type":"line","stroke":"#2b2b2b","strokeWidth":4,"clip":false},
"encoding":{"x":{"field":"px","type":"quantitative","scale":{"domain":[0,1772],"nice":false,"zero":false},"axis":null},"y":{"field":"py","type":"quantitative","scale":{"domain":[1632,0],"nice":false,"zero":false},"axis":null},"detail":{"field":"path"},"order":{"field":"seq"}}},
{"data":{"values":[{"label":"c","u":0.55,"z":-4.6},{"label":"r","u":1.55,"z":-17},{"label":"s","u":2.55,"z":-4.5},{"label":"p1","u":3.63,"z":-18.9},{"label":"p2","u":4.63,"z":-7},{"label":"p3","u":5.7,"z":-18.5},{"label":"p4","u":6.7,"z":-7.6},{"label":"1","u":7.55,"z":-19.6},{"label":"2","u":8.55,"z":-6.5},{"label":"3","u":9.53,"z":-18.4},{"label":"4","u":10.55,"z":-6},{"label":"5","u":11.55,"z":-18.4},{"label":"6","u":12.55,"z":-7.1}]},
"transform":[{"calculate":"270+67.7*datum.u","as":"px"},{"calculate":"1408+0.77*datum.u-5.39*datum.z","as":"py"}],
"mark":{"type":"text","font":"Liberation Serif","fontSize":68,"align":"center","baseline":"middle","color":"#000"},
"encoding":{"x":{"field":"px","type":"quantitative","scale":{"domain":[0,1772],"nice":false,"zero":false},"axis":null},"y":{"field":"py","type":"quantitative","scale":{"domain":[1632,0],"nice":false,"zero":false},"axis":null},"text":{"field":"label"}}},
{"data":{"values":[{"label":"10","mode":10},{"label":"20","mode":20},{"label":"30","mode":30},{"label":"40","mode":40},{"label":"50","mode":50},{"label":"60","mode":60}]},
"transform":[{"calculate":"270+67.7*13.5+8.2*datum.mode","as":"px"},{"calculate":"1408+0.77*13.5-14.55*datum.mode+5.39*7.5","as":"py"}],
"mark":{"type":"text","font":"Liberation Serif","fontSize":68,"align":"center","baseline":"middle","color":"#000"},
"encoding":{"x":{"field":"px","type":"quantitative","scale":{"domain":[0,1772],"nice":false,"zero":false},"axis":null},"y":{"field":"py","type":"quantitative","scale":{"domain":[1632,0],"nice":false,"zero":false},"axis":null},"text":{"field":"label"}}},
{"data":{"values":[{"label":"100","pct":100},{"label":"50","pct":50},{"label":"0","pct":0}]},
"transform":[{"calculate":"270+67.7*(-0.35)","as":"px"},{"calculate":"1408-5.39*datum.pct","as":"py"}],
"mark":{"type":"text","font":"Liberation Serif","fontSize":68,"align":"right","baseline":"middle","color":"#000"},
"encoding":{"x":{"field":"px","type":"quantitative","scale":{"domain":[0,1772],"nice":false,"zero":false},"axis":null},"y":{"field":"py","type":"quantitative","scale":{"domain":[1632,0],"nice":false,"zero":false},"axis":null},"text":{"field":"label"}}},
{"data":{"values":[{"label":"模态动能分布百分比/%","px":93,"py":1147}]},"mark":{"type":"text","font":"Noto Sans CJK SC","fontSize":66,"angle":270,"align":"center","baseline":"middle","color":"#000"},
"encoding":{"x":{"field":"px","type":"quantitative","scale":{"domain":[0,1772],"nice":false,"zero":false},"axis":null},"y":{"field":"py","type":"quantitative","scale":{"domain":[1632,0],"nice":false,"zero":false},"axis":null},"text":{"field":"label"}}},
{"data":{"values":[{"label":"构件","px":720,"py":1591}]},"mark":{"type":"text","font":"Noto Sans CJK SC","fontSize":62,"align":"center","baseline":"middle","color":"#000"},
"encoding":{"x":{"field":"px","type":"quantitative","scale":{"domain":[0,1772],"nice":false,"zero":false},"axis":null},"y":{"field":"py","type":"quantitative","scale":{"domain":[1632,0],"nice":false,"zero":false},"axis":null},"text":{"field":"label"}}},
{"data":{"values":[{"label":"模态阶数","px":1565,"py":1040}]},"mark":{"type":"text","font":"Noto Sans CJK SC","fontSize":64,"angle":306,"align":"center","baseline":"middle","color":"#000"},
"encoding":{"x":{"field":"px","type":"quantitative","scale":{"domain":[0,1772],"nice":false,"zero":false},"axis":null},"y":{"field":"py","type":"quantitative","scale":{"domain":[1632,0],"nice":false,"zero":false},"axis":null},"text":{"field":"label"}}}
]}
